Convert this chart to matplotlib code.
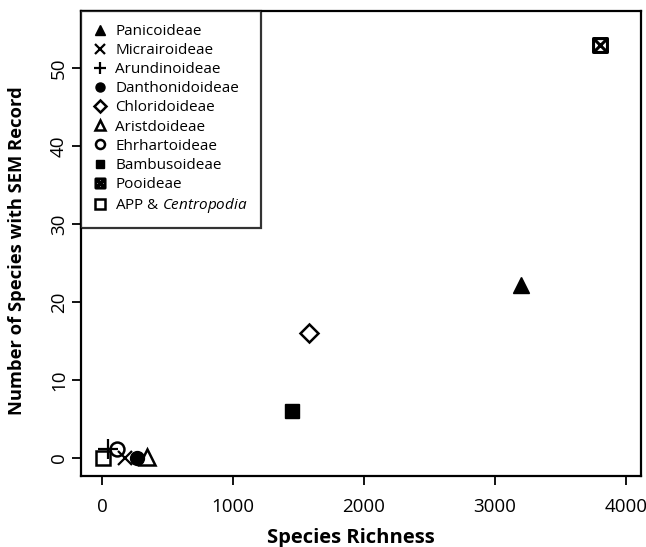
import matplotlib
matplotlib.use("Agg")
import matplotlib.pyplot as plt
from matplotlib.path import Path

plt.rcParams['font.family'] = ['Open Sans', 'DejaVu Sans']
plt.rcParams['mathtext.fontset'] = 'custom'
plt.rcParams['mathtext.rm'] = 'Open Sans'
plt.rcParams['mathtext.it'] = 'Open Sans:italic'

# data
subfamilies = ["Panicoideae", "Micrairoideae", "Arundinoideae", "Danthonidoideae",
               "Chloridoideae", "Aristdoideae", "Ehrhartoideae", "Bambusoideae",
               "Pooideae", r"APP & $\mathit{Centropodia}$"]
richness = [3200, 175, 45, 270, 1580, 345, 115, 1450, 3800, 10]
sem_species = [22.2, 0, 1.2, 0, 16, 0.1, 1.1, 6, 53, 0]

# square with a cross inside (R pch 7)
box_x = Path([(-1, -1), (1, -1), (1, 1), (-1, 1), (-1, -1),
              (-1, -1), (1, 1), (-1, 1), (1, -1)],
             [Path.MOVETO, Path.LINETO, Path.LINETO, Path.LINETO, Path.CLOSEPOLY,
              Path.MOVETO, Path.LINETO, Path.MOVETO, Path.LINETO])

styles = [
    dict(marker='^', ms=12, mfc='black', mec='black'),
    dict(marker='x', ms=10, mec='black', mew=1.6),
    dict(marker='+', ms=14, mec='black', mew=1.6),
    dict(marker='o', ms=10, mfc='black', mec='black'),
    dict(marker='D', ms=9.5, mfc='none', mec='black', mew=1.8),
    dict(marker='^', ms=12, mfc='none', mec='black', mew=1.8),
    dict(marker='o', ms=10, mfc='none', mec='black', mew=1.8),
    dict(marker='s', ms=9.5, mfc='black', mec='black'),
    dict(marker=box_x, ms=10, mfc='none', mec='black', mew=2.2),
    dict(marker='s', ms=10, mfc='none', mec='black', mew=1.8),
]

fig = plt.figure(figsize=(6.46, 5.47), dpi=100)
ax = fig.add_axes([81 / 646, 1 - 476 / 547, 560 / 646, 465 / 547])

for name, x, y, st in zip(subfamilies, richness, sem_species, styles):
    ax.plot([x], [y], linestyle='none', label=name, **st)

ax.set_xlim(-160, 4115)
ax.set_ylim(-2.3, 57.3)
ax.set_xticks([0, 1000, 2000, 3000, 4000])
ax.set_yticks([0, 10, 20, 30, 40, 50])
ax.tick_params(direction='out', length=6.5, width=1.3, labelsize=13.5)
ax.tick_params(axis='x', pad=9)
ax.tick_params(axis='y', pad=3)
for lab in ax.get_yticklabels():
    lab.set_rotation(90)
    lab.set_va('center')
for sp in ax.spines.values():
    sp.set_linewidth(1.6)

ax.set_xlabel("Species Richness", fontsize=14.5, fontweight='bold')
ax.set_ylabel("Number of Species with SEM Record", fontsize=13.2, fontweight='bold')
ax.xaxis.set_label_coords(0.482, -0.111)
ax.yaxis.set_label_coords(-0.098, 0.484)

leg = ax.legend(loc='upper left', frameon=True, fancybox=False, fontsize=11,
                borderaxespad=0, markerscale=0.65, handlelength=0.8,
                handletextpad=0.6, labelspacing=0.27, borderpad=0.85)
leg.get_frame().set_edgecolor('black')
leg.get_frame().set_linewidth(1.6)

fig.savefig("out.png", dpi=100)
